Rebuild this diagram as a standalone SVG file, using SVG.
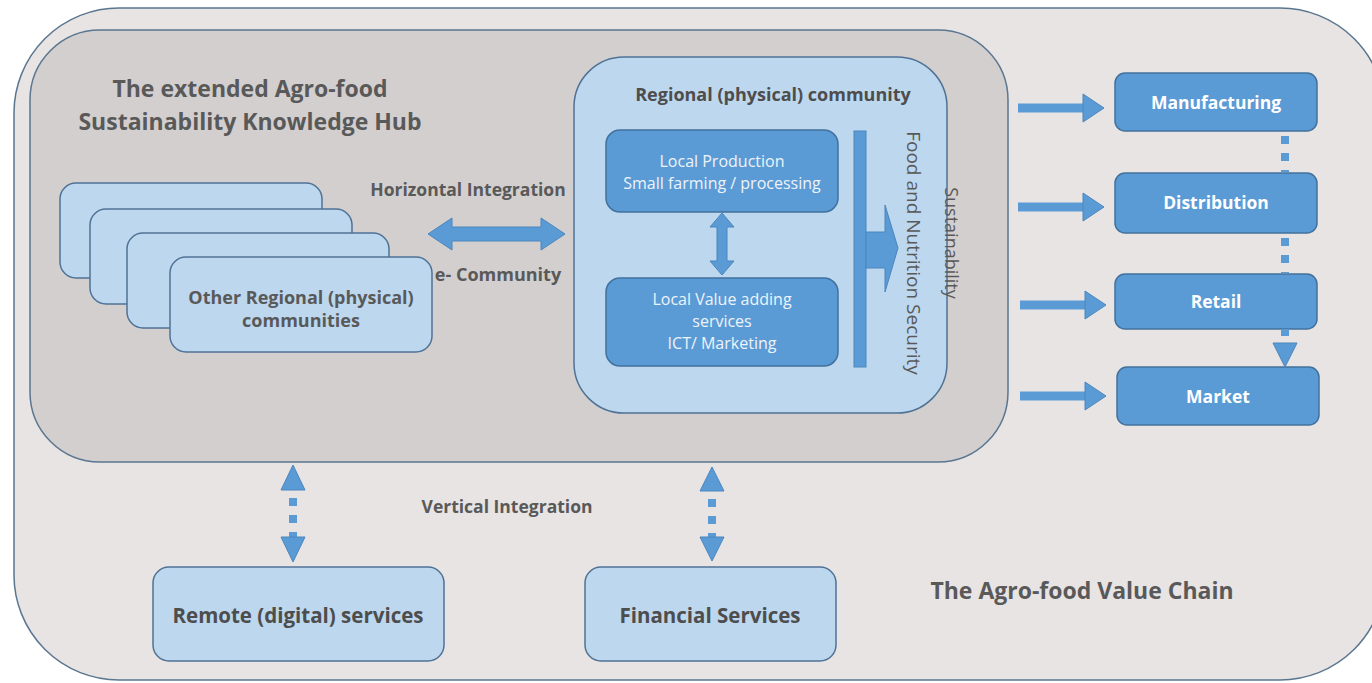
<svg xmlns="http://www.w3.org/2000/svg" width="1372" height="683" viewBox="0 0 1372 683">
<defs>
<style>
.t{font-family:"Open Sans","Liberation Sans",sans-serif;font-weight:bold;fill:#595959;text-anchor:middle}
.w{font-family:"Open Sans","Liberation Sans",sans-serif;fill:#eef3f9;text-anchor:middle}
.wb{font-family:"Open Sans","Liberation Sans",sans-serif;font-weight:bold;fill:#ffffff;text-anchor:middle}
.v{font-family:"Open Sans","Liberation Sans",sans-serif;fill:#595959;text-anchor:middle}
.lb{fill:#bdd7ee;stroke:#4f7396;stroke-width:1.5}
.db{fill:#5b9bd5;stroke:#41719c;stroke-width:1.5}
.ar{fill:#5b9bd5;stroke:#4a86bd;stroke-width:1}
.sh{stroke:#5b9bd5;stroke-width:9}
.dot{stroke:#5b9bd5;stroke-width:8;stroke-dasharray:8 9;fill:none}
</style>
</defs>
<rect width="1372" height="683" fill="#ffffff"/>
<g id="value-chain">
<rect x="14" y="8" width="1371" height="672" rx="105" fill="#e8e4e4" stroke="#5a7690" stroke-width="1.5"/>
<text class="t" x="1082" y="599" font-size="23">The Agro-food Value Chain</text>
</g>
<g id="hub">
<rect x="30" y="30" width="978" height="432" rx="70" fill="#d3cfcf" stroke="#5a7690" stroke-width="1.5"/>
<text class="t" x="250" y="97" font-size="23">The extended Agro-food</text>
<text class="t" x="250" y="130" font-size="23">Sustainability Knowledge Hub</text>
</g>
<g id="other-communities">
<rect class="lb" x="60" y="183" width="262" height="95" rx="16"/>
<rect class="lb" x="90" y="209" width="262" height="95" rx="16"/>
<rect class="lb" x="127" y="233" width="262" height="95" rx="16"/>
<rect class="lb" x="170" y="257" width="262" height="95" rx="16"/>
<text class="t" x="301" y="304" font-size="18">Other Regional (physical)</text>
<text class="t" x="301" y="327" font-size="18">communities</text>
</g>
<g id="regional-community">
<rect class="lb" x="574" y="57" width="373" height="356" rx="50"/>
<text class="t" x="773" y="101" font-size="18" style="fill:#4d4d4d">Regional (physical) community</text>
<text class="v" x="913" y="253" font-size="19" transform="rotate(90 913 253)" dy="6">Food and Nutrition Security</text>
<text class="v" x="951" y="243" font-size="18" transform="rotate(90 951 243)" dy="6">Sustainability</text>
</g>
<g id="local-production">
<rect class="db" x="606" y="130" width="232" height="82" rx="14"/>
<text class="w" x="722" y="167" font-size="16">Local Production</text>
<text class="w" x="722" y="189" font-size="16">Small farming / processing</text>
</g>
<g id="local-value">
<rect class="db" x="606" y="278" width="232" height="88" rx="14"/>
<text class="w" x="722" y="305" font-size="16">Local Value adding</text>
<text class="w" x="722" y="327" font-size="16">services</text>
<text class="w" x="722" y="349" font-size="16">ICT/ Marketing</text>
</g>
<g id="manufacturing">
<rect class="db" x="1115" y="73" width="202" height="58" rx="10"/>
<text class="wb" x="1216" y="109" font-size="17.5">Manufacturing</text>
</g>
<g id="distribution">
<rect class="db" x="1115" y="173" width="202" height="60" rx="10"/>
<text class="wb" x="1216" y="209" font-size="17.5">Distribution</text>
</g>
<g id="retail">
<rect class="db" x="1115" y="274" width="202" height="55" rx="10"/>
<text class="wb" x="1216" y="308" font-size="17.5">Retail</text>
</g>
<g id="market">
<rect class="db" x="1117" y="367" width="202" height="58" rx="10"/>
<text class="wb" x="1218" y="403" font-size="17.5">Market</text>
</g>
<g id="remote-services">
<rect class="lb" x="153" y="567" width="291" height="94" rx="16"/>
<text class="t" x="298" y="623" font-size="20.5" style="fill:#4d4d4d">Remote (digital) services</text>
</g>
<g id="financial-services">
<rect class="lb" x="585" y="567" width="251" height="94" rx="16"/>
<text class="t" x="710" y="623" font-size="20.5" style="fill:#4d4d4d">Financial Services</text>
</g>
<g id="connectors">
<polygon class="ar" points="428,234 452,218 452,227 541,227 541,218 565,234 541,250 541,241 452,241 452,250"/>
<text class="t" x="468" y="196" font-size="17.5">Horizontal Integration</text>
<text class="t" x="498" y="281" font-size="18">e- Community</text>
<polygon class="ar" points="722,213 734,227 727,227 727,261 734,261 722,275 710,261 717,261 717,227 710,227"/>
<rect class="ar" x="854" y="131" width="12" height="236"/>
<polygon class="ar" points="866,232 885,232 885,205 898,248 885,292 885,268 866,268"/>
<line class="sh" x1="1018" y1="108" x2="1085" y2="108"/>
<polygon class="ar" points="1083,94 1104,108 1083,122"/>
<line class="sh" x1="1018" y1="207" x2="1085" y2="207"/>
<polygon class="ar" points="1083,193 1104,207 1083,221"/>
<line class="sh" x1="1020" y1="305" x2="1087" y2="305"/>
<polygon class="ar" points="1085,291 1106,305 1085,319"/>
<line class="sh" x1="1020" y1="396" x2="1087" y2="396"/>
<polygon class="ar" points="1085,382 1106,396 1085,410"/>
<line class="dot" x1="1285" y1="132" x2="1285" y2="172" stroke-dashoffset="-4"/>
<line class="dot" x1="1285" y1="234" x2="1285" y2="273" stroke-dashoffset="-4"/>
<line x1="1285" y1="329" x2="1285" y2="336" style="stroke:#5b9bd5;stroke-width:8"/>
<polygon class="ar" points="1273,343 1297,343 1285,367"/>
<polygon class="ar" points="293,465 305,490 281,490"/>
<line class="dot" x1="293" y1="490" x2="293" y2="537" stroke-dashoffset="-8"/>
<polygon class="ar" points="281,537 305,537 293,562"/>
<polygon class="ar" points="712,467 724,491 700,491"/>
<line class="dot" x1="712" y1="491" x2="712" y2="537" stroke-dashoffset="-8"/>
<polygon class="ar" points="700,537 724,537 712,561"/>
<text class="t" x="507" y="513" font-size="17.5">Vertical Integration</text>
</g>
</svg>
